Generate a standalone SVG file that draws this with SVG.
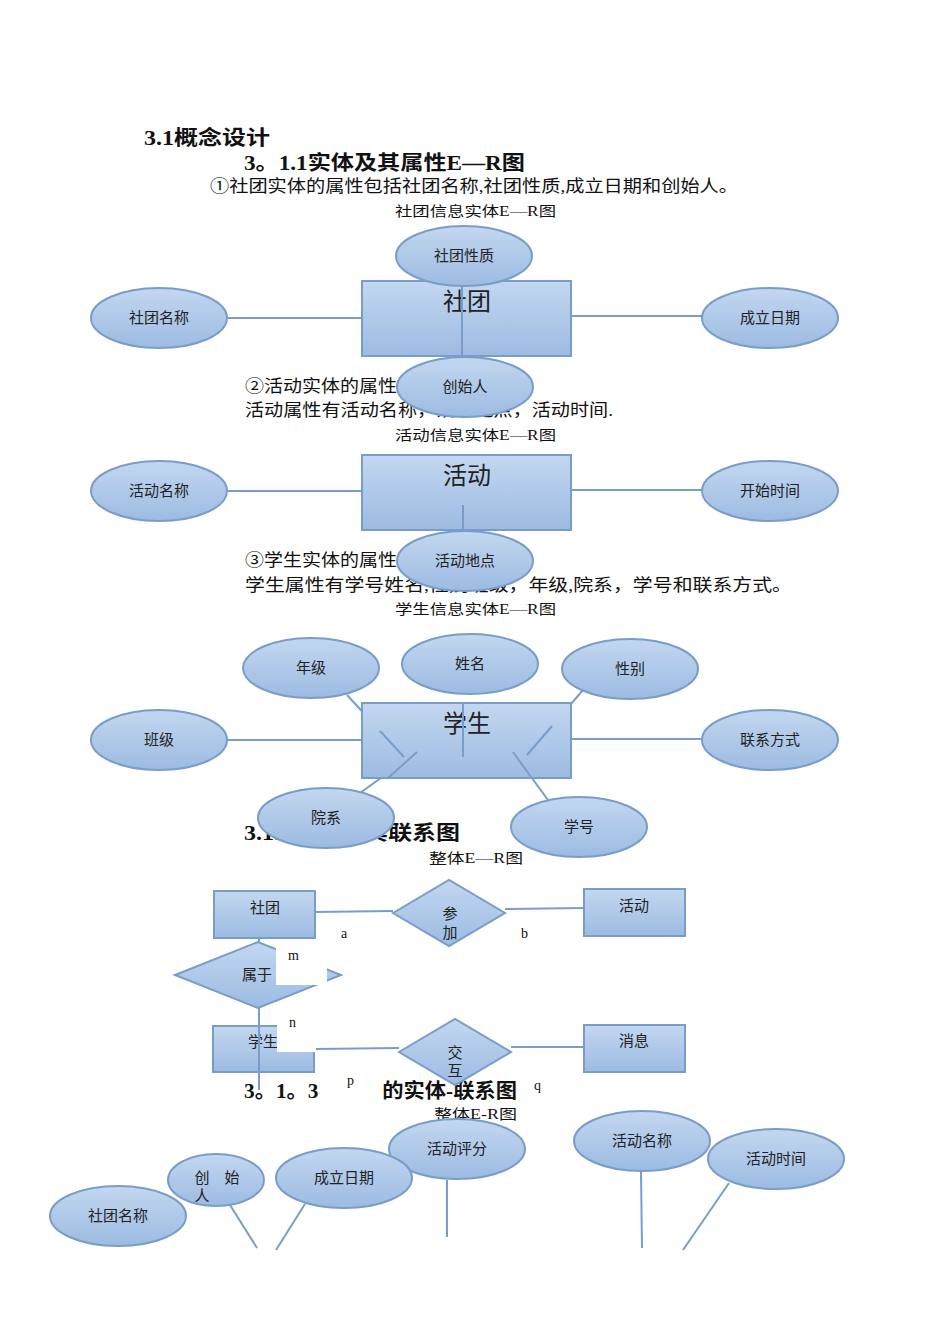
<svg xmlns="http://www.w3.org/2000/svg" width="950" height="1344" viewBox="0 0 950 1344">
<style>
.t{font-family:"Liberation Serif","Noto Sans CJK SC",serif;fill:#111}
.h{font-weight:bold;font-size:20px}
.p{font-size:17px}
.c{font-size:14px}
.n{font-size:16px;text-anchor:middle;font-family:"Noto Sans CJK SC",sans-serif;fill:#222}
.s{fill:url(#g);stroke:#7a9cc8;stroke-width:2}
.l{stroke:#7a9cc8;stroke-width:2;fill:none}
</style>
<defs><linearGradient id="g" x1="0" y1="0" x2="0" y2="1"><stop offset="0" stop-color="#c3d7f0"/><stop offset="1" stop-color="#9cbbe2"/></linearGradient></defs>
<rect width="950" height="1344" fill="#fff"/>
<g id="texts">
<text class="t h" x="144" y="145" textLength="126" lengthAdjust="spacingAndGlyphs">3.1概念设计</text>
<text class="t h" x="244" y="170" textLength="281" lengthAdjust="spacingAndGlyphs">3。1.1实体及其属性E—R图</text>
<text class="t p" x="210" y="192" textLength="528" lengthAdjust="spacingAndGlyphs">①社团实体的属性包括社团名称,社团性质,成立日期和创始人。</text>
<text class="t c" x="395" y="216" textLength="161" lengthAdjust="spacingAndGlyphs">社团信息实体E—R图</text>
<text class="t p" x="245" y="392" textLength="152" lengthAdjust="spacingAndGlyphs">②活动实体的属性</text>
<text class="t p" x="245" y="416" textLength="368" lengthAdjust="spacingAndGlyphs">活动属性有活动名称，活动地点，活动时间.</text>
<text class="t c" x="395" y="440" textLength="161" lengthAdjust="spacingAndGlyphs">活动信息实体E—R图</text>
<text class="t p" x="245" y="566" textLength="152" lengthAdjust="spacingAndGlyphs">③学生实体的属性</text>
<text class="t p" x="245" y="591" textLength="547" lengthAdjust="spacingAndGlyphs">学生属性有学号姓名,性别班级，年级,院系，学号和联系方式。</text>
<text class="t c" x="395" y="614" textLength="161" lengthAdjust="spacingAndGlyphs">学生信息实体E—R图</text>
<text class="t h" x="244" y="840" textLength="216" lengthAdjust="spacingAndGlyphs">3.1.2实体及其联系图</text>
<text class="t c" x="429" y="863" textLength="94" lengthAdjust="spacingAndGlyphs">整体E—R图</text>
<text class="t h" x="244" y="1098" textLength="273" lengthAdjust="spacingAndGlyphs">3。1。3实体间的实体-联系图</text>
<rect x="320" y="1072" width="62" height="36" fill="#fff"/>
<text class="t c" x="434" y="1119" textLength="83" lengthAdjust="spacingAndGlyphs">整体E-R图</text>
</g>
<g id="connectors">
<line class="l" x1="227" y1="318" x2="362" y2="318"/>
<line class="l" x1="568" y1="316" x2="702" y2="316"/>
<line class="l" x1="227" y1="491" x2="362" y2="491"/>
<line class="l" x1="568" y1="490" x2="702" y2="490"/>
<line class="l" x1="347" y1="695" x2="404" y2="757"/>
<line class="l" x1="583" y1="690" x2="527" y2="755"/>
<line class="l" x1="227" y1="740" x2="362" y2="740"/>
<line class="l" x1="568" y1="739" x2="702" y2="739"/>
<line class="l" x1="360" y1="793" x2="417" y2="752"/>
<line class="l" x1="548" y1="800" x2="513" y2="752"/>
<line class="l" x1="315" y1="912" x2="393" y2="911"/>
<line class="l" x1="505" y1="909" x2="584" y2="908"/>
<line class="l" x1="314" y1="1049" x2="399" y2="1048"/>
<line class="l" x1="511" y1="1047" x2="584" y2="1047"/>
<line class="l" x1="230" y1="1205" x2="257" y2="1248"/>
<line class="l" x1="305" y1="1204" x2="276" y2="1250"/>
<line class="l" x1="447" y1="1180" x2="447" y2="1237"/>
<line class="l" x1="641" y1="1172" x2="642" y2="1248"/>
<line class="l" x1="729" y1="1183" x2="683" y2="1250"/>
</g>
<g id="club1"><rect class="s" x="362" y="281" width="209" height="75"/><text class="n" x="467" y="310" style="font-size:24px">社团</text></g>
<line class="l" x1="462" y1="286" x2="462" y2="356"/>
<g id="club-nature"><ellipse class="s" cx="464" cy="256" rx="68" ry="30"/><text class="n" x="464" y="261" style="font-size:15px">社团性质</text></g>
<g id="club-name"><ellipse class="s" cx="159" cy="318" rx="68" ry="30"/><text class="n" x="159" y="323" style="font-size:15px">社团名称</text></g>
<g id="club-date"><ellipse class="s" cx="770" cy="318" rx="68" ry="30"/><text class="n" x="770" y="323" style="font-size:15px">成立日期</text></g>
<g id="club-founder"><ellipse class="s" cx="465" cy="387" rx="68" ry="30"/><text class="n" x="465" y="392" style="font-size:15px">创始人</text></g>
<g id="act1"><rect class="s" x="362" y="455" width="209" height="75"/><text class="n" x="467" y="484" style="font-size:24px">活动</text></g>
<line class="l" x1="463" y1="505" x2="463" y2="530"/>
<g id="act-name"><ellipse class="s" cx="159" cy="491" rx="68" ry="30"/><text class="n" x="159" y="496" style="font-size:15px">活动名称</text></g>
<g id="act-start"><ellipse class="s" cx="770" cy="491" rx="68" ry="30"/><text class="n" x="770" y="496" style="font-size:15px">开始时间</text></g>
<g id="act-place"><ellipse class="s" cx="465" cy="561" rx="68" ry="30"/><text class="n" x="465" y="566" style="font-size:15px">活动地点</text></g>
<g id="stu1"><rect class="s" x="362" y="703" width="209" height="75"/><text class="n" x="467" y="732" style="font-size:24px">学生</text></g>
<g id="stu-lines">
<line class="l" x1="380" y1="731" x2="404" y2="757"/>
<line class="l" x1="463" y1="703" x2="463" y2="757"/>
<line class="l" x1="552" y1="726" x2="527" y2="755"/>
<line class="l" x1="388" y1="778" x2="417" y2="752"/>
<line class="l" x1="531" y1="777" x2="513" y2="752"/>
</g>
<g id="grade"><ellipse class="s" cx="311" cy="668" rx="68" ry="30"/><text class="n" x="311" y="673" style="font-size:15px">年级</text></g>
<g id="sname"><ellipse class="s" cx="470" cy="664" rx="68" ry="30"/><text class="n" x="470" y="669" style="font-size:15px">姓名</text></g>
<g id="sex"><ellipse class="s" cx="630" cy="669" rx="68" ry="30"/><text class="n" x="630" y="674" style="font-size:15px">性别</text></g>
<g id="class"><ellipse class="s" cx="159" cy="740" rx="68" ry="30"/><text class="n" x="159" y="745" style="font-size:15px">班级</text></g>
<g id="contact"><ellipse class="s" cx="770" cy="740" rx="68" ry="30"/><text class="n" x="770" y="745" style="font-size:15px">联系方式</text></g>
<g id="dept"><ellipse class="s" cx="326" cy="818" rx="68" ry="30"/><text class="n" x="326" y="823" style="font-size:15px">院系</text></g>
<g id="sno"><ellipse class="s" cx="579" cy="827" rx="68" ry="30"/><text class="n" x="579" y="832" style="font-size:15px">学号</text></g>
<g id="e-club"><rect class="s" x="214" y="891" width="101" height="47"/><text class="n" x="265" y="913" style="font-size:15px">社团</text></g>
<g id="e-act"><rect class="s" x="584" y="889" width="101" height="47"/><text class="n" x="634" y="911" style="font-size:15px">活动</text></g>
<g id="e-stu"><rect class="s" x="213" y="1026" width="101" height="46"/><text class="n" x="263" y="1047" style="font-size:15px">学生</text></g>
<g id="e-msg"><rect class="s" x="584" y="1025" width="101" height="47"/><text class="n" x="634" y="1046" style="font-size:15px">消息</text></g>
<g id="join"><polygon class="s" points="393,913 449,880 505,913 449,946"/><text class="n" x="450" y="919" style="font-size:15px">参</text><text class="n" x="450" y="938" style="font-size:15px">加</text></g>
<g id="belong"><polygon class="s" points="175,975 258,942 341,975 258,1008"/><text class="n" x="257" y="980" style="font-size:15px">属于</text></g>
<g id="interact"><polygon class="s" points="399,1052 455,1019 511,1052 455,1085"/><text class="n" x="455" y="1058" style="font-size:15px">交</text><text class="n" x="455" y="1076" style="font-size:15px">互</text></g>
<line class="l" x1="259" y1="938" x2="259" y2="942"/>
<line class="l" x1="259" y1="1008" x2="259" y2="1090"/>
<rect x="276" y="942" width="51" height="43" fill="#fff"/>
<rect x="277" y="1025" width="39" height="27" fill="#fff"/>
<g id="labels" class="t" style="font-size:14px">
<text x="341" y="938">a</text><text x="521" y="938">b</text><text x="288" y="960">m</text><text x="289" y="1027">n</text><text x="347" y="1085">p</text><text x="534" y="1090">q</text>
</g>
<g id="b-score"><ellipse class="s" cx="457" cy="1149" rx="68" ry="30"/><text class="n" x="457" y="1154" style="font-size:15px">活动评分</text></g>
<g id="b-aname"><ellipse class="s" cx="642" cy="1141" rx="68" ry="30"/><text class="n" x="642" y="1146" style="font-size:15px">活动名称</text></g>
<g id="b-atime"><ellipse class="s" cx="776" cy="1159" rx="68" ry="30"/><text class="n" x="776" y="1164" style="font-size:15px">活动时间</text></g>
<g id="b-date"><ellipse class="s" cx="344" cy="1178" rx="68" ry="30"/><text class="n" x="344" y="1183" style="font-size:15px">成立日期</text></g>
<g id="b-founder"><ellipse class="s" cx="216" cy="1180" rx="48" ry="26"/><text class="n" x="217" y="1183" style="font-size:15px">创　始</text><text class="n" x="202" y="1201" style="font-size:15px">人</text></g>
<g id="b-cname"><ellipse class="s" cx="118" cy="1216" rx="68" ry="30"/><text class="n" x="118" y="1221" style="font-size:15px">社团名称</text></g>
</svg>
